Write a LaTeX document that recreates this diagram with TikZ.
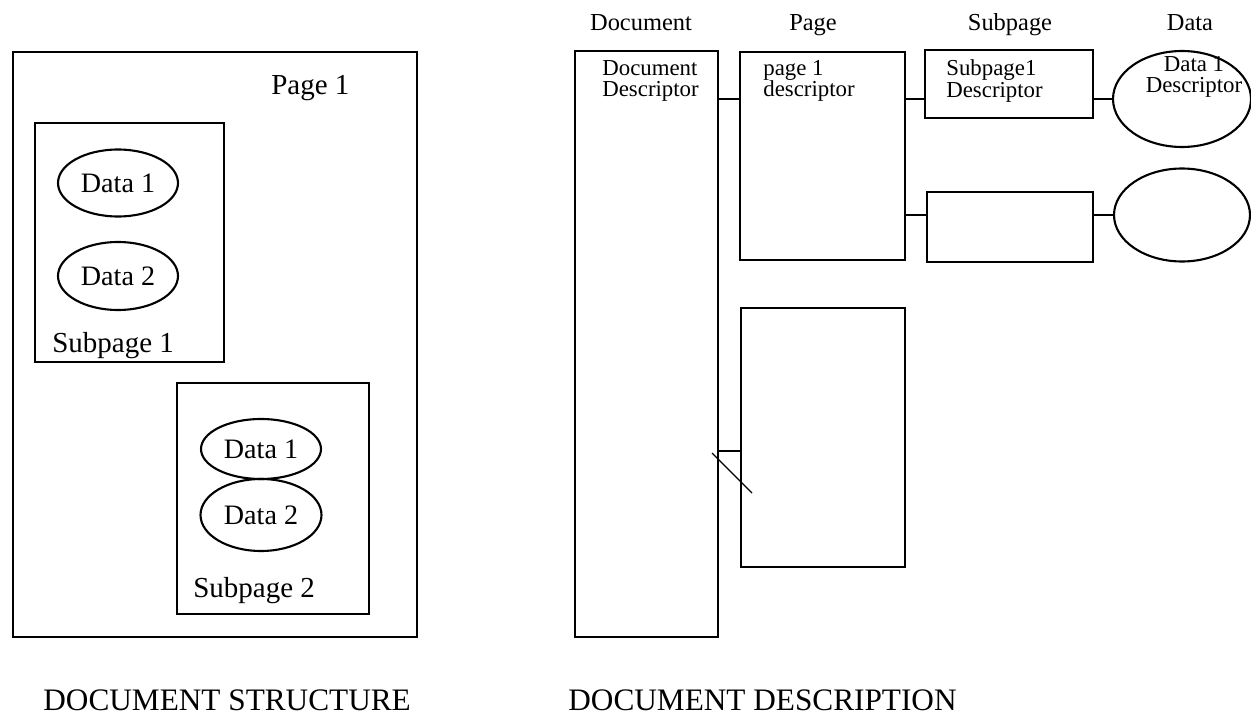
\documentclass[tikz,border=0pt]{standalone}
\usepackage{fontspec}
\setmainfont{Liberation Serif}
\usetikzlibrary{shapes.geometric,fit}

\begin{document}
\begin{tikzpicture}[x=0.02cm,y=-0.02cm,
      box/.style={draw,line width=1.4pt,inner sep=0pt},
      blob/.style={draw,ellipse,line width=1.2pt,inner sep=0pt,font=\fontsize{16}{18}\selectfont},
      hd/.style={anchor=base,inner sep=0pt,font=\fontsize{13.9}{15}\selectfont},
      dsc/.style={inner sep=0pt,align=left,anchor=west,font=\fontsize{13}{12}\selectfont},
      big/.style={anchor=base west,inner sep=0pt,font=\fontsize{16.5}{18}\selectfont},
      ttl/.style={anchor=base west,inner sep=0pt,font=\fontsize{17.8}{20}\selectfont},
      ln/.style={line width=1.2pt}]
    \useasboundingbox (0,0) rectangle (1251,716);
    % document structure
    \node[box,fit={(13,52) (417,637)}] (pg) {};
    \node[big] (pglbl) at (271,95) {Page 1};
    \node[box,fit={(35,123) (224,362)}] (sub1) {};
    \node[blob,minimum width=2.4cm,minimum height=1.34cm] (s1d1) at (118,183) {Data 1};
    \node[blob,minimum width=2.4cm,minimum height=1.36cm] (s1d2) at (118,276) {Data 2};
    \node[big] (sub1lbl) at (52,352) {Subpage 1};
    \node[box,fit={(177,383) (369,614)}] (sub2) {};
    \node[blob,minimum width=2.4cm,minimum height=1.2cm] (s2d1) at (261,449) {Data 1};
    \node[blob,minimum width=2.42cm,minimum height=1.44cm] (s2d2) at (261,515) {Data 2};
    \node[big] (sub2lbl) at (193,597) {Subpage 2};
    \node[ttl] (ttlstruct) at (43,710) {DOCUMENT STRUCTURE};
    % document description
    \node[hd] (hdoc) at (641,31) {Document};
    \node[hd] (hpage) at (813,31) {Page};
    \node[hd] (hsub) at (1010,31) {Subpage};
    \node[hd] (hdata) at (1190,31) {Data};
    \node[box,fit={(575,51) (718,637)}] (doc) {};
    \node[box,fit={(740,52) (905,260)}] (page1) {};
    \node[box,fit={(741,308) (905,567)}] (page2) {};
    \node[box,fit={(925,50) (1093,118)}] (subd1) {};
    \node[box,fit={(927,192) (1093,262)}] (subd2) {};
    \node[blob,minimum width=2.76cm,minimum height=1.92cm] (datd1) at (1182,99) {};
    \node[blob,minimum width=2.72cm,minimum height=1.86cm] (datd2) at (1182,215) {};
    \node[dsc] (doctxt) at (602,81) {Document\\Descriptor};
    \node[dsc] (pagetxt) at (763,81) {page 1\\descriptor};
    \node[dsc] (subtxt) at (946,81) {Subpage1\\Descriptor};
    \node[dsc,align=center,anchor=center] (datatxt) at (1194,77) {Data 1\\Descriptor};
    \coordinate (r1) at (0,99);
    \coordinate (r2) at (0,215);
    \coordinate (r3) at (0,451);
    \draw[ln] (doc.east |- r1) -- (page1.west |- r1);
    \draw[ln] (page1.east |- r1) -- (subd1.west |- r1);
    \draw[ln] (subd1.east |- r1) -- (datd1.west);
    \draw[ln] (page1.east |- r2) -- (subd2.west |- r2);
    \draw[ln] (subd2.east |- r2) -- (datd2.west);
    \draw[ln] (doc.east |- r3) -- (page2.west |- r3);
    \coordinate (mk1) at (712,453);
    \coordinate (mk2) at (752,493);
    \draw[line width=0.7pt] (mk1) -- (mk2);
    \node[ttl] (ttldesc) at (568,710) {DOCUMENT DESCRIPTION};
\end{tikzpicture}
\end{document}
